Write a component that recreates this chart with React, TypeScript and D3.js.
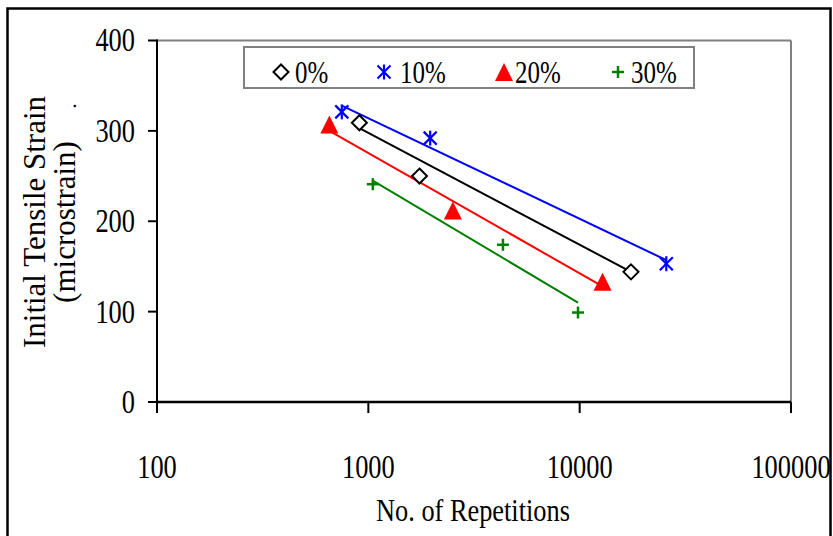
import React from "react";
import * as d3 from "d3";

// ---- data ----
const seriesNames = ["0%", "10%", "20%", "30%"];
const seriesColors = ["#000000", "#0000ff", "#ff0000", "#008000"];
const seriesShapes = ["diamond", "star", "triangle", "plus"];

const reps0 = [907, 1746, 17490];
const strain0 = [309, 250, 144];
const reps10 = [749, 1962, 25700];
const strain10 = [321, 292, 153];
const reps20 = [654, 2512, 12830];
const strain20 = [307, 212, 133];
const reps30 = [1050, 4335, 9820];
const strain30 = [241, 174, 99];

// trend lines: start and end
const trendReps0 = [907, 17490];
const trendStrain0 = [303, 144];
const trendReps10 = [749, 25700];
const trendStrain10 = [328, 157];
const trendReps20 = [654, 12830];
const trendStrain20 = [300, 128];
const trendReps30 = [1050, 9820];
const trendStrain30 = [245, 110];

const xTicks = [100, 1000, 10000, 100000];
const yTicks = [0, 100, 200, 300, 400];

const xTitle = "No. of Repetitions";
const yTitle1 = "Initial Tensile Strain";
const yTitle2 = "(microstrain)";

const allReps = [reps0, reps10, reps20, reps30];
const allStrain = [strain0, strain10, strain20, strain30];
const allTrendReps = [trendReps0, trendReps10, trendReps20, trendReps30];
const allTrendStrain = [trendStrain0, trendStrain10, trendStrain20, trendStrain30];

const FONT = "'Liberation Serif', 'Times New Roman', serif";

function Marker({ shape, color, x, y }: { shape: string; color: string; x: number; y: number }) {
  if (shape === "diamond") {
    const s = 7.5;
    return (
      <path
        d={`M${x},${y - s}L${x + s},${y}L${x},${y + s}L${x - s},${y}Z`}
        fill="#fff"
        stroke={color}
        strokeWidth={2}
      />
    );
  }
  if (shape === "star") {
    const s = 6.5;
    return (
      <g stroke={color} strokeWidth={2.2}>
        <line x1={x} y1={y - s - 1} x2={x} y2={y + s + 1} />
        <line x1={x - s} y1={y - s} x2={x + s} y2={y + s} />
        <line x1={x - s} y1={y + s} x2={x + s} y2={y - s} />
      </g>
    );
  }
  if (shape === "triangle") {
    const w = 9;
    const h = 9;
    return <path d={`M${x},${y - h}L${x + w},${y + h}L${x - w},${y + h}Z`} fill={color} />;
  }
  const s = 6;
  return (
    <g stroke={color} strokeWidth={2.5}>
      <line x1={x - s} y1={y} x2={x + s} y2={y} />
      <line x1={x} y1={y - s} x2={x} y2={y + s} />
    </g>
  );
}

export default function App() {
  const W = 833;
  const H = 536;
  const left = 157;
  const right = 791;
  const top = 40.5;
  const bottom = 402;

  const x = d3.scaleLog().domain([100, 100000]).range([left, right]);
  const y = d3.scaleLinear().domain([0, 400]).range([bottom, top]);
  const line = d3
    .line<[number, number]>()
    .x((d) => x(d[0]))
    .y((d) => y(d[1]));

  const legendX = [281, 384, 504, 618];
  const legendTextX = [295, 400, 515, 631];

  const sx = (cx: number, k: number) => `translate(${cx},0) scale(${k},1) translate(${-cx},0)`;

  return (
    <svg
      width={W}
      height={H}
      style={{ position: "absolute", left: 0, top: 0, background: "#fff" }}
      fontFamily={FONT}
    >
      <rect x={0} y={0} width={W} height={H} fill="#fff" />
      {/* outer frame */}
      <rect x={7.5} y={8.5} width={823} height={545} fill="none" stroke="#000" strokeWidth={2.5} />

      {/* plot frame top/right */}
      <line x1={left} y1={top} x2={right} y2={top} stroke="#808080" strokeWidth={2} />
      <line x1={right} y1={top} x2={right} y2={bottom} stroke="#808080" strokeWidth={2} />

      {/* y axis */}
      <line x1={left} y1={top - 1} x2={left} y2={bottom + 11} stroke="#000" strokeWidth={2} />
      {yTicks.map((t) => (
        <g key={t}>
          <line x1={left - 9} y1={y(t)} x2={left} y2={y(t)} stroke="#000" strokeWidth={2} />
          <text x={135} y={y(t) + 11} fontSize={33} textAnchor="end" transform={sx(135, 0.8)}>
            {t}
          </text>
        </g>
      ))}

      {/* x axis */}
      <line x1={left} y1={bottom} x2={right} y2={bottom} stroke="#000" strokeWidth={2.5} />
      {xTicks.map((t) => (
        <g key={t}>
          <line x1={x(t)} y1={bottom} x2={x(t)} y2={bottom + 11} stroke="#000" strokeWidth={2} />
          <text x={x(t)} y={478} fontSize={33} textAnchor="middle" transform={sx(x(t), 0.8)}>
            {t}
          </text>
        </g>
      ))}

      {/* axis titles */}
      <text x={473} y={521} fontSize={31} textAnchor="middle" transform={sx(473, 0.85)}>
        {xTitle}
      </text>
      <text transform={`translate(45,222) rotate(-90)`} fontSize={31} textAnchor="middle">
        {yTitle1}
      </text>
      <text transform={`translate(75,222) rotate(-90)`} fontSize={31} textAnchor="middle">
        {yTitle2}
      </text>
      <text transform={`translate(76,106) rotate(-90)`} fontSize={22} textAnchor="middle">
        .
      </text>

      {/* trend lines */}
      {seriesNames.map((n, i) => (
        <path
          key={"l" + n}
          d={line(allTrendReps[i].map((r, j) => [r, allTrendStrain[i][j]] as [number, number])) || ""}
          fill="none"
          stroke={seriesColors[i]}
          strokeWidth={2}
        />
      ))}

      {/* markers */}
      {seriesNames.map((n, i) =>
        allReps[i].map((r, j) => (
          <Marker key={n + j} shape={seriesShapes[i]} color={seriesColors[i]} x={x(r)} y={y(allStrain[i][j])} />
        ))
      )}

      {/* legend */}
      <rect x={244} y={47} width={450} height={41} fill="#fff" stroke="#808080" strokeWidth={2} />
      {seriesNames.map((n, i) => (
        <g key={"lg" + n}>
          <Marker shape={seriesShapes[i]} color={seriesColors[i]} x={legendX[i]} y={72} />
          <text x={legendTextX[i]} y={83} fontSize={32} transform={sx(legendTextX[i], 0.78)}>
            {n}
          </text>
        </g>
      ))}
    </svg>
  );
}
